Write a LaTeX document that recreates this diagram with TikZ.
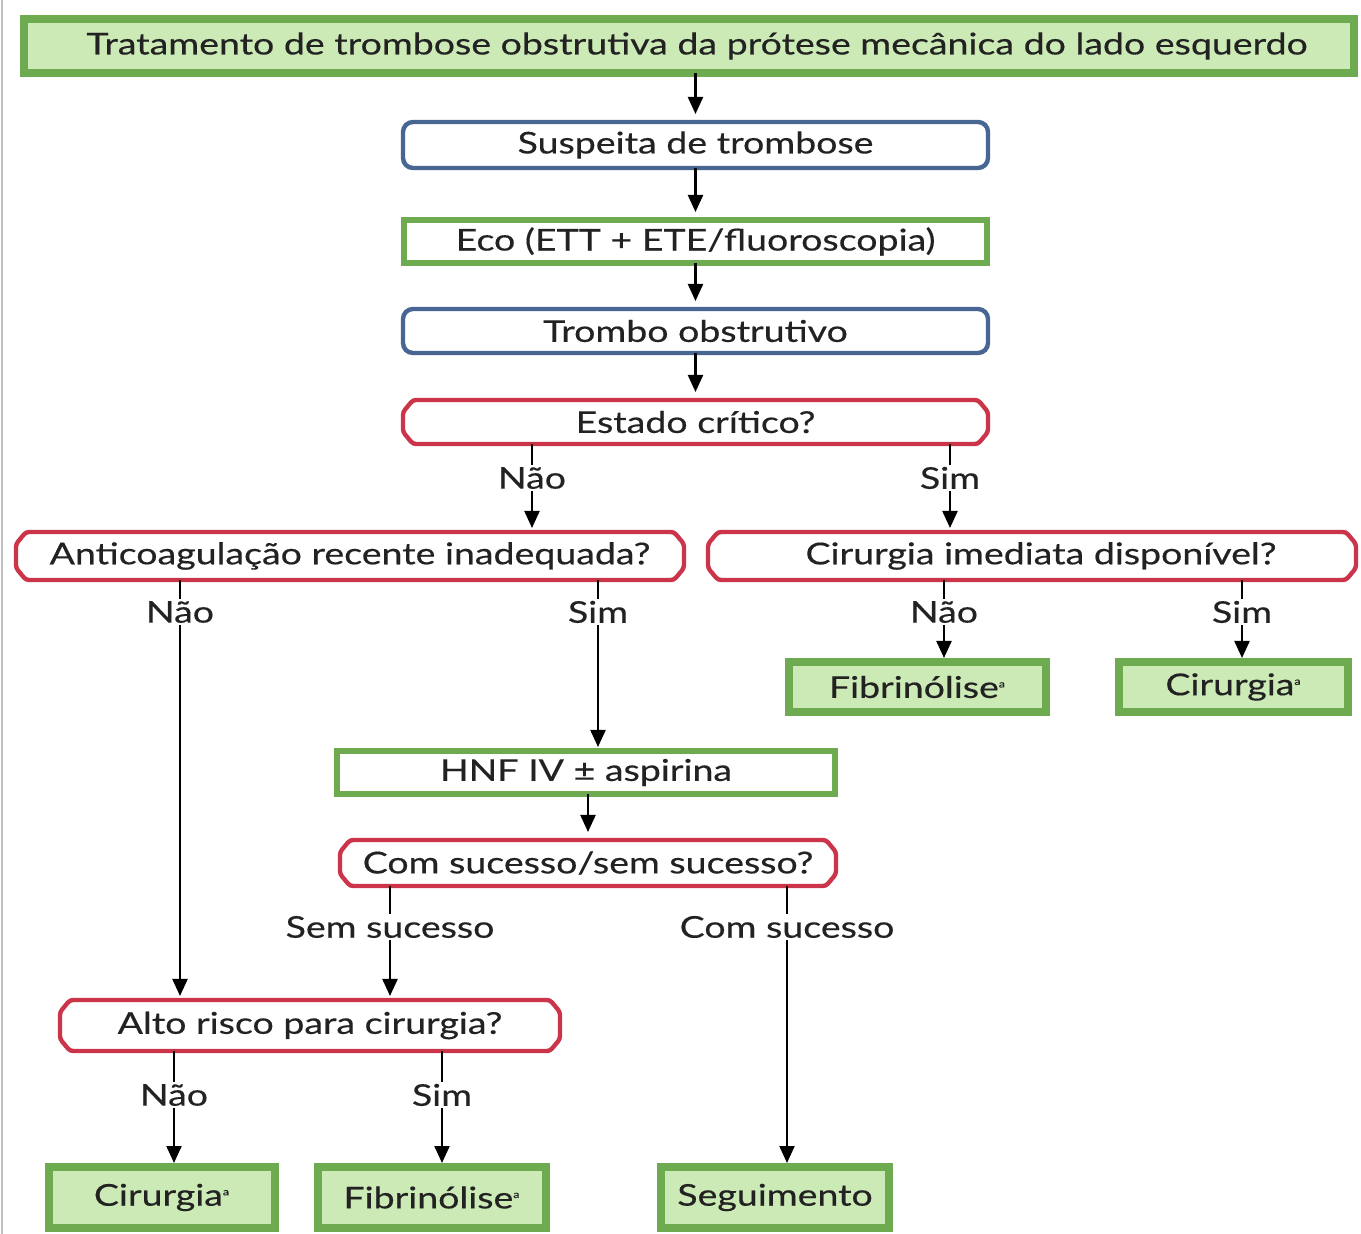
\documentclass[tikz,border=0pt]{standalone}
\usepackage{fontspec}
\setmainfont{Lato}[FakeStretch=1.25,FakeBold=0.4]
\usetikzlibrary{arrows.meta,calc}
\definecolor{grnborder}{RGB}{110,170,80}
\definecolor{grnfill}{RGB}{204,234,182}
\definecolor{redborder}{RGB}{204,52,74}
\definecolor{blueborder}{RGB}{72,102,146}
\definecolor{txt}{RGB}{34,34,34}
% chamfered outline around a decision node
\newcommand\chamferbox[1]{%
  \draw[decborder]
    ($(#1.north west)+(10,0)$) -- ($(#1.north east)+(-10,0)$) --
    ($(#1.north east)+(0,12)$) -- ($(#1.south east)+(0,-12)$) --
    ($(#1.south east)+(-10,0)$) -- ($(#1.south west)+(10,0)$) --
    ($(#1.south west)+(0,-12)$) -- ($(#1.north west)+(0,12)$) -- cycle;}
\begin{document}
\begin{tikzpicture}[x=0.5pt,y=-0.5pt,
  every node/.style={font=\fontsize{15}{17}\selectfont, text=txt, inner sep=0pt, outer sep=0pt},
  result/.style={draw=grnborder, fill=grnfill, line width=4pt},
  action/.style={draw=grnborder, fill=white, line width=3pt},
  state/.style={draw=blueborder, fill=white, line width=2.2pt, rounded corners=5pt},
  decision/.style={fill=white},
  decborder/.style={draw=redborder, line width=2.2pt, rounded corners=1.5pt},
  lbl/.style={inner sep=1pt},
  arr/.style={-{Triangle[length=8.5pt,width=7.5pt]}, line width=1.1pt, black, shorten >=2pt},
  tick/.style={line width=1.1pt, black}
]
\useasboundingbox (0,0) rectangle (1361,1234);
\draw[black!25, line width=1pt] (2,0) -- (2,1234);

% main column
\node[result, minimum width=665pt, minimum height=27pt] (top) at (689,46)
  {\hspace*{8pt}Tratamento de trombose obstrutiva da prótese mecânica do lado esquerdo};
\node[state, minimum width=292.5pt, minimum height=23pt] (susp) at (695.5,145) {Suspeita de trombose};
\node[action, minimum width=291.5pt, minimum height=21.5pt] (eco) at (695.5,241.5) {Eco (ETT + ETE/fluoroscopia)};
\node[state, minimum width=292.5pt, minimum height=22pt] (trombo) at (695.5,331) {Trombo obstrutivo};
\node[decision, minimum width=292.5pt, minimum height=22pt] (estado) at (695.5,422) {Estado crítico?};
\chamferbox{estado}

% second level decisions
\node[decision, minimum width=334pt, minimum height=24pt] (anti) at (350,556) {Anticoagulação recente inadequada?};
\chamferbox{anti}
\node[decision, minimum width=324pt, minimum height=24pt] (cirimed) at (1032,556) {\hspace*{9pt}Cirurgia imediata disponível?};
\chamferbox{cirimed}

% right outcomes
\node[result, minimum width=128.5pt, minimum height=25pt] (fibr) at (917.5,687) {Fibrinólise\textsuperscript{\tiny a}};
\node[result, minimum width=114.5pt, minimum height=25pt] (cirr) at (1233.5,687) {Cirurgia\textsuperscript{\tiny a}};

% anticoagulation branch
\node[action, minimum width=249pt, minimum height=21.5pt] (hnf) at (586,772.5) {HNF IV ± aspirina};
\node[decision, minimum width=248pt, minimum height=23pt] (suc) at (588,863) {Com sucesso/sem sucesso?};
\chamferbox{suc}
\node[decision, minimum width=250pt, minimum height=25.5pt] (alto) at (310,1025.5) {Alto risco para cirurgia?};
\chamferbox{alto}

% bottom outcomes
\node[result, minimum width=113pt, minimum height=30.5pt] (cirb) at (162,1197.5) {Cirurgia\textsuperscript{\tiny a}};
\node[result, minimum width=114pt, minimum height=30.5pt] (fibb) at (432,1197.5) {Fibrinólise\textsuperscript{\tiny a}};
\node[result, minimum width=114pt, minimum height=30.5pt] (seg) at (775,1197.5) {Seguimento};

% branch labels
\node[lbl] (l1n) at (532,478) {Não};
\node[lbl] (l1s) at (950,478) {Sim};
\node[lbl] (l2n) at (180,612) {Não};
\node[lbl] (l2s) at (598,612) {Sim};
\node[lbl] (l3n) at (944,612) {Não};
\node[lbl] (l3s) at (1242,612) {Sim};
\node[lbl] (l4n) at (390,927) {Sem sucesso};
\node[lbl] (l4s) at (787,927) {Com sucesso};
\node[lbl] (l5n) at (174,1095) {Não};
\node[lbl] (l5s) at (442,1095) {Sim};

% straight connectors
\draw[arr, shorten >=4pt] (top.south -| susp.north) -- (susp.north);
\draw[arr, shorten >=4pt] (susp.south) -- (eco.north);
\draw[arr, shorten >=4pt] (eco.south) -- (trombo.north);
\draw[arr, shorten >=4pt] (trombo.south) -- (estado.north);
\draw[arr, shorten >=4pt] (hnf.south -| suc.north) -- (suc.north);

% labelled branches
\foreach \from/\lab/\to in {estado/l1n/anti, estado/l1s/cirimed,
    anti/l2n/alto, anti/l2s/hnf, cirimed/l3n/fibr, cirimed/l3s/cirr,
    suc/l4n/alto, suc/l4s/seg, alto/l5n/cirb, alto/l5s/fibb}{
  \draw[tick] (\from.south -| \lab.north) -- (\lab.north);
  \draw[arr] (\lab.south) -- (\to.north -| \lab.south);
}
\end{tikzpicture}
\end{document}
